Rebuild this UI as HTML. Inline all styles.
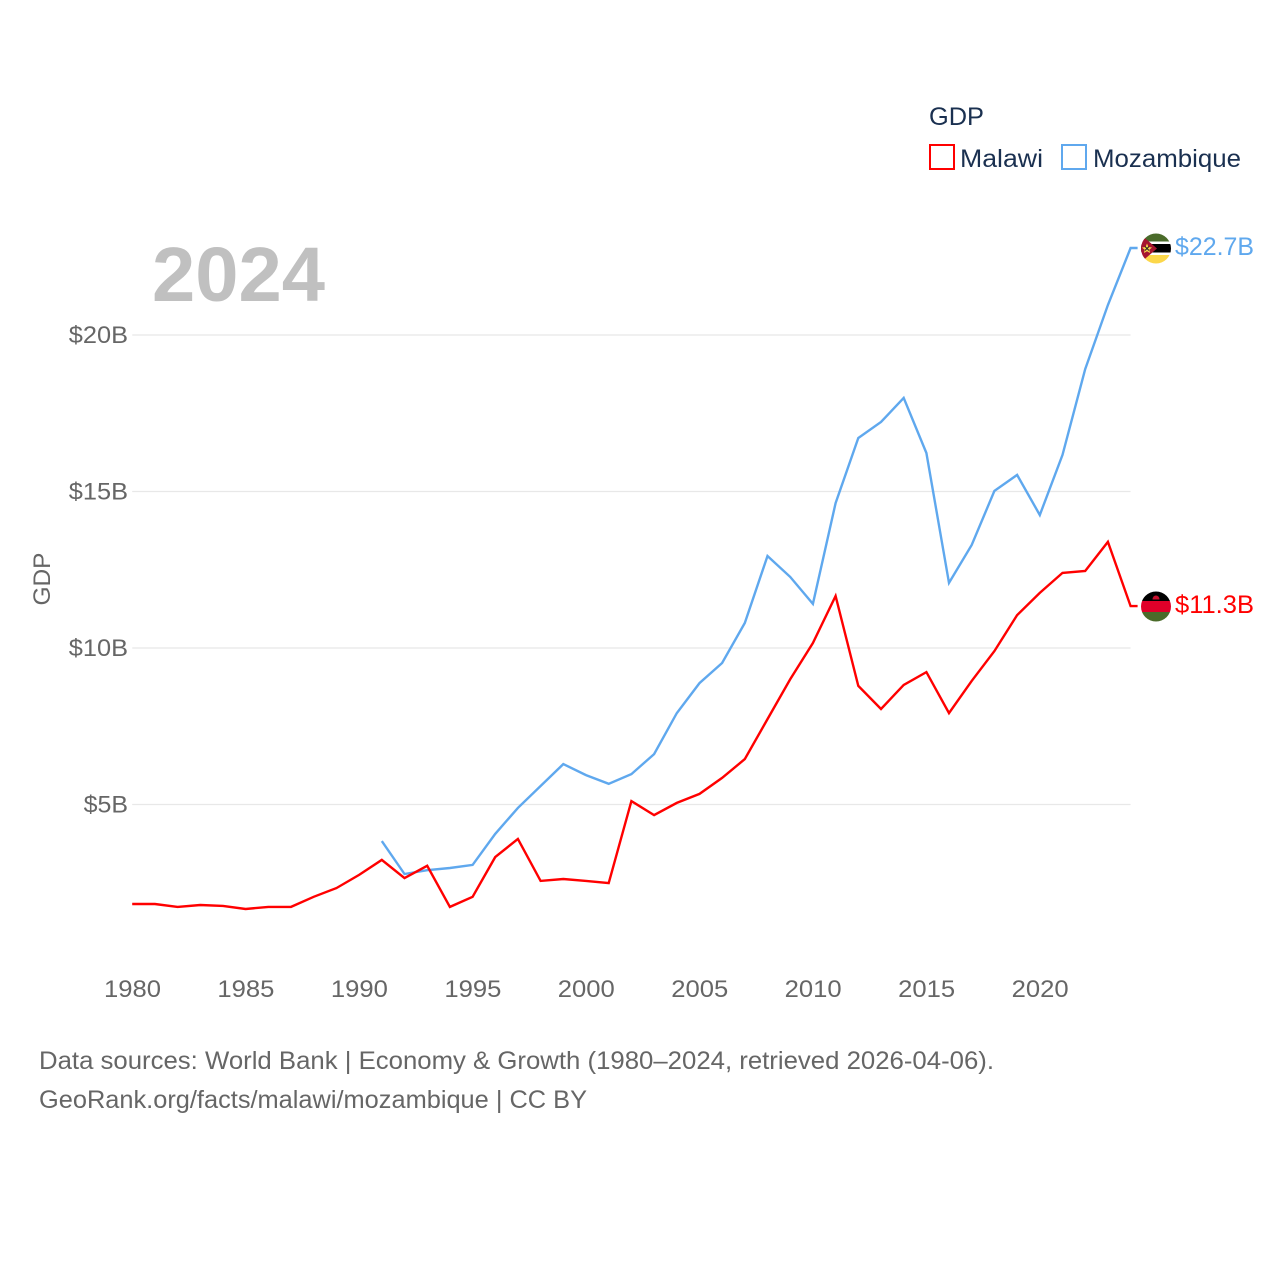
<!DOCTYPE html>
<html lang="en">
<head>
<meta charset="utf-8">
<title>GDP: Malawi and Mozambique</title>
<style>
html,body{margin:0;padding:0;background:#fff;width:1280px;height:1280px;overflow:hidden}
svg{display:block}
text{font-family:"Liberation Sans",sans-serif}
</style>
</head>
<body>
<svg id="chart" width="1280" height="1280" viewBox="0 0 1280 1280" xmlns="http://www.w3.org/2000/svg">
  <defs>
    <clipPath id="flag-clip-moz"><circle cx="1156" cy="248.5" r="15"/></clipPath>
    <clipPath id="flag-clip-mwi"><circle cx="1156" cy="606.5" r="15"/></clipPath>
  </defs>
  <rect width="1280" height="1280" fill="#fff"/>
  <g id="grid"></g>
  <g id="yticks"></g>
  <g id="xticks"></g>
  <text x="152" y="301" font-size="77" font-weight="700" fill="#c0c0c0" textLength="173" lengthAdjust="spacingAndGlyphs">2024</text>
  <text transform="translate(50,579) rotate(-90)" text-anchor="middle" font-size="24" fill="#666" textLength="53" lengthAdjust="spacingAndGlyphs">GDP</text>
  <g id="series"></g>

  <g clip-path="url(#flag-clip-moz)">
    <rect x="1141" y="233" width="30" height="9" fill="#4a6b2a"/>
    <rect x="1141" y="241.500" width="30" height="14" fill="#fff"/>
    <rect x="1141" y="244" width="30" height="8.500" fill="#000"/>
    <rect x="1141" y="255" width="30" height="9" fill="#fcd74a"/>
    <polygon points="1139,233 1157,248.500 1139,264" fill="#a5152f"/>
    <polygon points="1147,243.500 1148.500,247 1152,247.500 1149.300,249.800 1150,253 1147,251.300 1144,253 1144.700,249.800 1142,247.500 1145.500,247" fill="#f6d54a"/>
    <path d="M1145 246.500l4 4M1149 246.500l-4 4" stroke="#222" stroke-width="1"/>
  </g>
  <g clip-path="url(#flag-clip-mwi)">
    <rect x="1141" y="591" width="30" height="10" fill="#000"/>
    <rect x="1141" y="601" width="30" height="11" fill="#e00029"/>
    <rect x="1141" y="612" width="30" height="10" fill="#4a6b2a"/>
    <path d="M1152.500 599.500a3.500 4 0 0 1 7 0z" fill="#c8102e"/>
  </g>
  <text x="1175" y="255" font-size="25" fill="#5fa8ee" textLength="79" lengthAdjust="spacingAndGlyphs">$22.7B</text>
  <text x="1175" y="613" font-size="25" fill="#ff0000" textLength="79" lengthAdjust="spacingAndGlyphs">$11.3B</text>

  <g>
    <text x="929" y="125" font-size="25" fill="#1a3050" textLength="55" lengthAdjust="spacingAndGlyphs">GDP</text>
    <g>
      <rect x="930" y="145" width="24" height="24" fill="#fff" stroke="#ff0000" stroke-width="2"/>
      <text x="960" y="167" font-size="25" fill="#1a3050" textLength="83" lengthAdjust="spacingAndGlyphs">Malawi</text>
    </g>
    <g>
      <rect x="1062" y="145" width="24" height="24" fill="#fff" stroke="#5fa8ee" stroke-width="2"/>
      <text x="1093" y="167" font-size="25" fill="#1a3050" textLength="148" lengthAdjust="spacingAndGlyphs">Mozambique</text>
    </g>
  </g>

  <text x="39" y="1069" font-size="25" fill="#666" textLength="955" lengthAdjust="spacingAndGlyphs">Data sources: World Bank | Economy &amp; Growth (1980–2024, retrieved 2026-04-06).</text>
  <a><text x="39" y="1108" font-size="25" fill="#666" textLength="548" lengthAdjust="spacingAndGlyphs">GeoRank.org/facts/malawi/mozambique | CC BY</text></a>
</svg>
<script>
const yearTicks = [1980,1985,1990,1995,2000,2005,2010,2015,2020];
const valueTicks = [5,10,15,20];
const valueTickLabels = ["$5B","$10B","$15B","$20B"];
const malawiStartYear = 1980;
const malawiValues = [1.82,1.82,1.73,1.79,1.76,1.66,1.73,1.73,2.05,2.33,2.75,3.23,2.65,3.04,1.73,2.05,3.32,3.90,2.56,2.62,2.56,2.49,5.11,4.66,5.05,5.34,5.85,6.45,7.73,9.00,10.16,11.66,8.79,8.05,8.82,9.23,7.92,8.95,9.90,11.05,11.76,12.40,12.46,13.39,11.34];
const mozambiqueStartYear = 1991;
const mozambiqueValues = [3.83,2.78,2.90,2.97,3.07,4.06,4.89,5.59,6.29,5.94,5.66,5.97,6.61,7.92,8.88,9.52,10.80,12.94,12.27,11.41,14.63,16.71,17.22,17.99,16.23,12.08,13.29,15.02,15.53,14.25,16.17,18.91,20.96,22.78];

const NS = 'http://www.w3.org/2000/svg';
function xScale(year){ return 132.2 + (year - 1980) * 22.69; }
function yScale(v){ return 961 - v * 31.3; }

const gridGroup = document.getElementById('grid');
const yGroup = document.getElementById('yticks');
const xGroup = document.getElementById('xticks');
const seriesGroup = document.getElementById('series');

valueTicks.forEach(function(v, i){
  const line = document.createElementNS(NS, 'line');
  
  
  line.setAttribute('x1', xScale(1980));
  line.setAttribute('x2', xScale(2024));
  line.setAttribute('y1', yScale(v));
  line.setAttribute('y2', yScale(v));
  line.setAttribute('stroke', '#e8e8e8');
  line.setAttribute('stroke-width', '1.2');
  gridGroup.appendChild(line);
  const t = document.createElementNS(NS, 'text');
  
  
  t.setAttribute('x', 128);
  t.setAttribute('y', yScale(v) + 8);
  t.setAttribute('text-anchor', 'end');
  t.setAttribute('font-size', '24.5');
  t.setAttribute('fill', '#666');
  t.setAttribute('textLength', valueTickLabels[i].length * 14.8);
  t.setAttribute('lengthAdjust', 'spacingAndGlyphs');
  t.textContent = valueTickLabels[i];
  yGroup.appendChild(t);
});

yearTicks.forEach(function(y){
  const t = document.createElementNS(NS, 'text');
  
  
  t.setAttribute('x', xScale(y) + 0.3);
  t.setAttribute('y', 997);
  t.setAttribute('text-anchor', 'middle');
  t.setAttribute('font-size', '24.5');
  t.setAttribute('fill', '#666');
  t.setAttribute('textLength', String(y).length * 14.25);
  t.setAttribute('lengthAdjust', 'spacingAndGlyphs');
  t.textContent = y;
  xGroup.appendChild(t);
});

function drawSeries(values, startYear, color, name){
  const pts = values.map(function(v, i){
    return xScale(startYear + i).toFixed(1) + ',' + yScale(v).toFixed(1);
  });
  const last = values[values.length - 1];
  pts.push((xScale(startYear + values.length - 1) + 7).toFixed(1) + ',' + yScale(last).toFixed(1));
  const line = document.createElementNS(NS, 'polyline');
  
  
  line.setAttribute('points', pts.join(' '));
  line.setAttribute('fill', 'none');
  line.setAttribute('stroke', color);
  line.setAttribute('stroke-width', '2.4');
  line.setAttribute('stroke-linejoin', 'miter');
  seriesGroup.appendChild(line);
}
drawSeries(mozambiqueValues, mozambiqueStartYear, '#5fa8ee', 'mozambique-line');
drawSeries(malawiValues, malawiStartYear, '#ff0000', 'malawi-line');
</script>
</body>
</html>
